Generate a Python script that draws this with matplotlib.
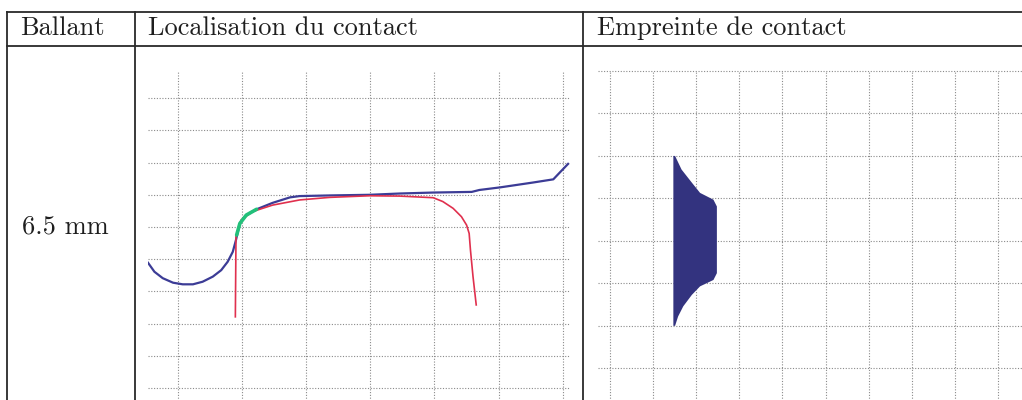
import matplotlib.pyplot as plt

# data (grid units)
blue_x = [-0.46, -0.36, -0.23, -0.07, 0.08, 0.24, 0.39, 0.55, 0.68, 0.78, 0.86,
          0.91, 0.97, 1.07, 1.23, 1.48, 1.75, 1.90, 2.37, 2.99, 3.46, 3.98,
          4.58, 4.70, 5.02, 5.53, 5.85, 5.95, 6.08]
blue_y = [3.89, 3.61, 3.41, 3.27, 3.22, 3.22, 3.30, 3.46, 3.66, 3.92, 4.23,
          4.60, 5.11, 5.37, 5.55, 5.75, 5.92, 5.96, 5.98, 6.00, 6.04, 6.07,
          6.09, 6.15, 6.23, 6.38, 6.48, 6.69, 6.96]

red_x = [0.90, 0.91, 0.99, 1.17, 1.48, 1.90, 2.37, 2.99, 3.46, 3.98, 4.13, 4.29,
         4.42, 4.50, 4.54, 4.56, 4.60, 4.65]
red_y = [2.21, 4.70, 5.22, 5.48, 5.68, 5.84, 5.92, 5.97, 5.96, 5.91, 5.79, 5.58,
         5.32, 5.06, 4.80, 4.29, 3.46, 2.58]

green_x = [0.92, 0.97, 1.07, 1.23]
green_y = [4.75, 5.11, 5.37, 5.55]

# contact footprint outline (right edge from top to bottom, left edge straight)
foot_y = [4.0, 3.68, 3.37, 3.13, 2.97, 2.81, 1.24, 1.08, 0.93, 0.73, 0.46, 0.22, 0.0]
foot_x = [1.51, 1.66, 1.90, 2.09, 2.40, 2.48, 2.48, 2.40, 2.09, 1.90, 1.70, 1.58, 1.51]
foot_left = 1.47

headers = ["Ballant", "Localisation du contact", "Empreinte de contact"]
row_label = "6.5 mm"

W, H = 1022, 400
fig = plt.figure(figsize=(W / 100, H / 100), dpi=100)


def px_axes(x0, x1, ytop, ybot):
    return fig.add_axes([x0 / W, (H - ybot) / H, (x1 - x0) / W, (ybot - ytop) / H])


def grid_style(ax, xt, yt):
    ax.set_xticks(xt)
    ax.set_yticks(yt)
    ax.tick_params(length=0, labelbottom=False, labelleft=False)
    for s in ax.spines.values():
        s.set_visible(False)
    ax.grid(True, linestyle=(0, (1, 1.5)), color="#8a8a8a", linewidth=0.8)
    ax.set_axisbelow(True)


# left plot: contact location
ax1 = px_axes(148, 570, 72, 420)
ax1.set_xlim(-0.46, 6.11)
ax1.set_ylim((388 - 420) / 32.2, (388 - 72) / 32.2)
grid_style(ax1, range(0, 7), range(0, 10))
ax1.plot(blue_x, blue_y, color="#3c3c96", lw=1.6, solid_joinstyle="round")
ax1.plot(red_x, red_y, color="#e0304e", lw=1.2, solid_joinstyle="round")
ax1.plot(green_x, green_y, color="#22c07a", lw=2.6, solid_capstyle="round")

# right plot: contact footprint
ax2 = px_axes(598, 1030, 71, 420)
ax2.set_xlim((598 - 610) / 43.1, (1030 - 610) / 43.1)
ax2.set_ylim((326 - 420) / 42.4, 6.0)
grid_style(ax2, range(0, 10), range(-2, 7))
for gl in ax2.get_ygridlines():
    gl.set_clip_on(False)
poly_x = [foot_left] + foot_x + [foot_left]
poly_y = [foot_y[0]] + foot_y + [foot_y[-1]]
ax2.fill(poly_x, poly_y, color="#33337f", lw=0)

# table frame
fr = fig.add_axes([0, 0, 1, 1])
fr.set_xlim(0, W)
fr.set_ylim(H, 0)
fr.axis("off")
fr.patch.set_alpha(0)
lc = "#2a2a2a"
for y in [12, 46]:
    fr.plot([7, W], [y, y], color=lc, lw=1.3)
for x in [7, 135, 583]:
    fr.plot([x, x], [12, H], color=lc, lw=1.3)

txt = dict(fontfamily="cmr10", fontsize=19, color="#1e1e1e", va="baseline")
fr.text(20, 35, headers[0], **txt)
fr.text(148, 35, headers[1], **txt)
fr.text(597, 35, headers[2], **txt)
fr.text(22, 233, row_label, **txt)

fig.savefig("out.png", dpi=100)
